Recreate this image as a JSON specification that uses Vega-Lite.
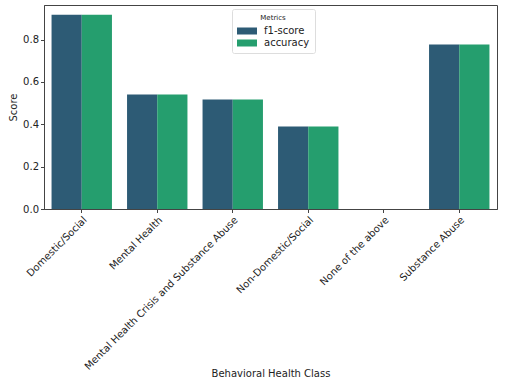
{
  "$schema": "https://vega.github.io/schema/vega-lite/v6.json",
  "width": 453,
  "height": 204,
  "autosize": {"type": "none"},
  "padding": {"left": 44, "top": 5, "right": 24, "bottom": 174},
  "background": "white",
  "config": {
    "font": "DejaVu Sans",
    "view": {"stroke": "#444", "strokeWidth": 1}
  },
  "data": {
    "values": [
      {"cls": "Domestic/Social", "metric": "f1-score", "score": 0.917},
      {"cls": "Domestic/Social", "metric": "accuracy", "score": 0.917},
      {"cls": "Mental Health", "metric": "f1-score", "score": 0.540},
      {"cls": "Mental Health", "metric": "accuracy", "score": 0.540},
      {"cls": "Mental Health Crisis and Substance Abuse", "metric": "f1-score", "score": 0.517},
      {"cls": "Mental Health Crisis and Substance Abuse", "metric": "accuracy", "score": 0.517},
      {"cls": "Non-Domestic/Social", "metric": "f1-score", "score": 0.390},
      {"cls": "Non-Domestic/Social", "metric": "accuracy", "score": 0.390},
      {"cls": "None of the above", "metric": "f1-score", "score": 0.0},
      {"cls": "None of the above", "metric": "accuracy", "score": 0.0},
      {"cls": "Substance Abuse", "metric": "f1-score", "score": 0.777},
      {"cls": "Substance Abuse", "metric": "accuracy", "score": 0.777}
    ]
  },
  "mark": {"type": "bar"},
  "encoding": {
    "x": {
      "field": "cls",
      "type": "nominal",
      "sort": null,
      "scale": {"paddingInner": 0.2, "paddingOuter": 0.1},
      "axis": {
        "title": "Behavioral Health Class",
        "titleFontSize": 10,
        "titleFontWeight": "normal",
        "titleColor": "#222",
        "titleY": 159,
        "labelAngle": -45,
        "labelAlign": "right",
        "labelBaseline": "top",
        "labelFontSize": 10,
        "labelColor": "#222",
        "labelLimit": 400,
        "labelPadding": 2,
        "labelDx": -4,
        "tickColor": "#444",
        "tickSize": 3.5,
        "domainColor": "#444",
        "grid": false
      }
    },
    "xOffset": {"field": "metric", "type": "nominal", "sort": ["f1-score", "accuracy"]},
    "y": {
      "field": "score",
      "type": "quantitative",
      "scale": {"domain": [0, 0.963], "nice": false},
      "axis": {
        "title": "Score",
        "titleFontSize": 10,
        "titleFontWeight": "normal",
        "titleColor": "#222",
        "titlePadding": 4,
        "values": [0, 0.2, 0.4, 0.6, 0.8],
        "format": ".1f",
        "labelFontSize": 10,
        "labelColor": "#222",
        "tickColor": "#444",
        "tickSize": 3.5,
        "domainColor": "#444",
        "grid": false
      }
    },
    "color": {
      "field": "metric",
      "type": "nominal",
      "sort": ["f1-score", "accuracy"],
      "scale": {"domain": ["f1-score", "accuracy"], "range": ["#2d5b75", "#259e6e"]},
      "legend": {
        "title": "Metrics",
        "orient": "none",
        "legendX": 188,
        "legendY": 4,
        "titleFontSize": 7,
        "titleFontWeight": "normal",
        "titleColor": "#222",
        "titleAnchor": "middle",
        "titlePadding": 5,
        "labelFontSize": 10,
        "labelColor": "#222",
        "labelOffset": 17,
        "symbolType": "M-1,-0.7H3V0.7H-1Z",
        "symbolSize": 100,
        "symbolStrokeWidth": 0,
        "rowPadding": 2,
        "padding": 5,
        "fillColor": "white",
        "strokeColor": "#ddd",
        "cornerRadius": 2
      }
    }
  }
}
